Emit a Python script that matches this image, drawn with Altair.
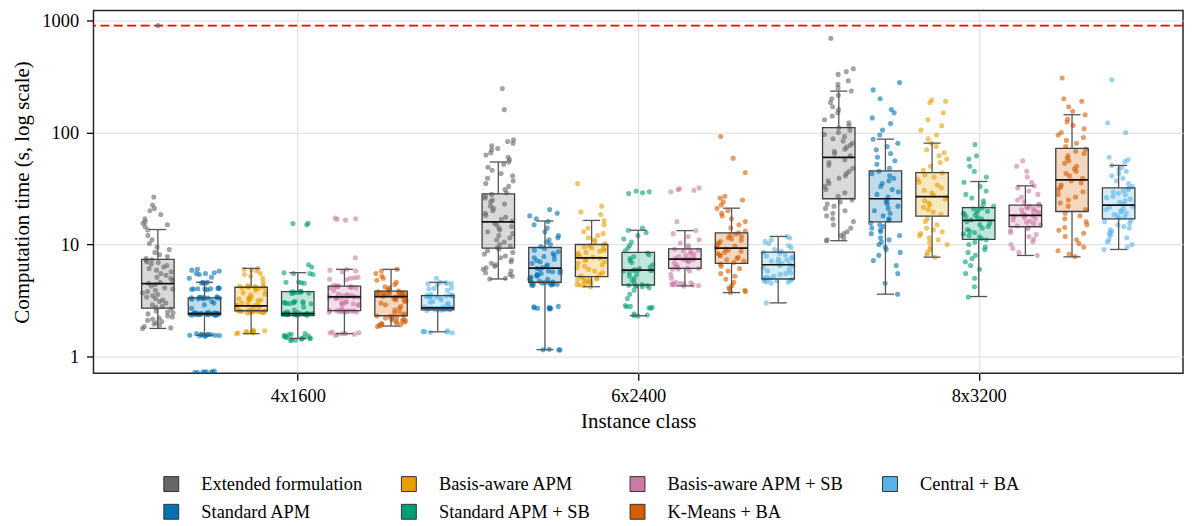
import altair as alt
import pandas as pd

CLASSES = ["4x1600", "6x2400", "8x3200"]
METHODS = ["Extended formulation", "Standard APM", "Basis-aware APM", "Standard APM + SB",
           "Basis-aware APM + SB", "K-Means + BA", "Central + BA"]
COLORS = ["#666666", "#0072B2", "#E69F00", "#009E73", "#CC79A7", "#D55E00", "#56B4E9"]
LEGEND_IDX = [0, 2, 4, 6, 1, 3, 5]
TIME_LIMIT = 900
Y_TICKS = [1, 10, 100, 1000]

# box statistics, class-major, methods in METHODS order
WHISK_LO = [1.78, 1.55, 1.60, 1.45, 1.60, 1.87, 1.66,
            4.92, 1.15, 4.20, 2.31, 4.27, 3.72, 3.01,
            10.8, 3.6, 7.71, 3.43, 7.98, 7.76, 9.03]
Q1 = [2.70, 2.36, 2.56, 2.32, 2.57, 2.31, 2.61,
      9.27, 4.60, 5.16, 4.35, 6.12, 6.78, 4.92,
      25.6, 15.9, 17.9, 11.1, 14.4, 19.7, 16.9]
MED = [4.47, 2.41, 2.83, 2.41, 3.41, 3.43, 2.72,
       15.9, 6.16, 7.60, 5.90, 7.40, 9.27, 6.59,
       59.9, 25.6, 26.8, 16.4, 18.2, 37.7, 22.5]
Q3 = [7.36, 3.34, 4.15, 3.80, 4.24, 3.83, 3.50,
      28.3, 9.40, 10.0, 8.50, 9.14, 12.7, 8.55,
      110.6, 45.4, 43.8, 21.3, 22.5, 72.0, 32.0]
WHISK_HI = [13.6, 4.60, 6.12, 5.60, 6.00, 6.00, 4.60,
            54.5, 16.2, 16.4, 13.4, 13.3, 21.1, 11.8,
            234, 87.2, 80.3, 36.5, 33.4, 144, 50.8]

# individual instance times
P4_EXT = [1.78, 1.8, 1.85, 1.9, 1.95, 2.0, 2.05, 2.1, 2.15, 2.2, 2.25, 2.3, 2.4, 2.45, 2.5, 2.55, 2.65,
          2.75, 2.8, 2.9, 3.0, 3.1, 3.2, 3.3, 3.4, 3.5, 3.6, 3.7, 3.8, 3.9, 4.0, 4.1, 4.25, 4.4,
          4.5, 4.6, 4.8, 5.0, 5.1, 5.3, 5.5, 5.7, 5.9, 6.1, 6.3, 6.5, 6.7, 6.9, 7.0, 7.2, 7.3,
          7.5, 7.8, 8.1, 8.5, 9.0, 9.5, 10.2, 11, 12, 13.5,
          14.5, 15, 15.5, 16, 17, 18.5, 20, 21, 22.5, 26.5, 900]
P4_STD = [0.72, 0.72, 0.73, 0.73, 0.72, 0.74, 0.73, 0.72,
          1.52, 1.54, 1.55, 1.56, 1.57, 1.58, 1.55, 1.53, 1.56, 1.6, 1.54, 1.57,
          2.33, 2.35, 2.36, 2.37, 2.38, 2.4, 2.41, 2.42, 2.43, 2.45, 2.36, 2.38, 2.4, 2.42, 2.44,
          2.35, 2.39, 2.41, 2.43, 2.37, 2.4, 2.46, 2.48,
          2.7, 2.9, 3.0, 3.1,
          3.25, 3.3, 3.32, 3.35, 3.38, 3.4, 3.3, 3.35, 3.42, 3.28, 3.36, 3.33,
          3.95, 4.0, 4.02, 4.05, 4.1, 4.0, 4.03, 3.98, 4.07,
          4.5, 4.55, 4.6, 4.52, 4.58,
          5.0, 5.1, 5.4, 5.5, 5.6, 5.8, 6.0, 5.9, 5.5]
P4_BA = [1.6, 1.62, 1.65, 1.67, 1.7, 1.63, 1.66, 1.68, 1.72, 1.64,
         2.45, 2.48, 2.5, 2.52, 2.54, 2.55, 2.56, 2.5, 2.53, 2.57, 2.49, 2.51, 2.55, 2.58, 2.6, 2.47, 2.52, 2.56,
         2.7, 2.78, 2.82, 2.85, 2.9, 2.95, 3.0, 2.88,
         3.15, 3.2, 3.25, 3.3, 3.35, 3.22, 3.28, 3.4,
         3.55, 3.6, 3.7, 3.8, 3.9,
         4.05, 4.1, 4.15, 4.2, 4.25, 4.3, 4.12, 4.18, 4.22, 4.08, 4.28,
         4.6, 5.0, 5.2, 5.4, 5.5,
         5.8, 5.9, 6.0, 6.1]
P4_STDSB = [1.38, 1.4, 1.42, 1.44, 1.45, 1.46, 1.48, 1.5, 1.52, 1.55, 1.58, 1.6, 1.43, 1.47, 1.51, 1.56,
            2.33, 2.35, 2.37, 2.38, 2.4, 2.41, 2.42, 2.44, 2.36, 2.39, 2.43, 2.45, 2.34, 2.4, 2.38, 2.42, 2.47, 2.5,
            2.6, 2.75,
            2.95, 2.98, 3.0, 3.02, 3.05, 3.08, 3.0, 3.03, 2.97, 3.1,
            3.65, 3.7, 3.75, 3.78, 3.8, 3.72, 3.76, 3.82, 3.68,
            4.5, 4.6, 4.55, 4.62,
            5.4, 5.5, 5.6, 5.5,
            6.3, 6.6,
            15.0, 15.4, 15.5]
P4_BASB = [1.55, 1.58, 1.6, 1.62, 1.65, 1.57, 1.63, 1.6,
           2.48, 2.5, 2.52, 2.54, 2.55, 2.57, 2.6, 2.51, 2.56, 2.53, 2.58, 2.49, 2.55, 2.62,
           2.85, 2.9, 2.95, 3.0, 2.92, 2.98, 3.05, 3.1,
           3.3, 3.35, 3.38, 3.4, 3.42, 3.45, 3.5, 3.36, 3.44, 3.32, 3.4, 3.48, 3.55, 3.6,
           3.9, 4.1, 4.15, 4.2, 4.22, 4.25, 4.3, 4.18, 4.12, 4.28, 4.24,
           4.85, 4.9, 5.0, 5.05, 5.1,
           5.7, 5.8, 5.9, 6.0,
           7.6, 16.5, 16.8, 17.0, 17.2]
P4_KM = [1.85, 1.88, 1.9, 1.92, 1.95, 1.97, 2.0, 2.02, 2.05, 2.08, 2.1, 2.12, 2.15, 2.18, 2.2, 2.22, 2.25, 2.28, 2.3,
         2.35, 2.4, 2.45, 2.5, 2.6, 2.7, 2.8, 2.9, 3.0, 3.1, 3.15, 3.2, 3.25, 3.3, 3.35, 3.4,
         3.45, 3.5, 3.52, 3.55, 3.58, 3.6, 3.62, 3.65, 3.68, 3.7, 3.72, 3.75, 3.78, 3.8, 3.45, 3.55, 3.65,
         3.85, 3.9, 4.0, 4.1, 4.2, 4.4, 4.6, 4.8, 5.0, 5.2, 5.5, 5.8, 6.0]
P4_CEN = [1.63, 1.65, 1.66, 1.68, 1.7, 1.67, 1.64,
          2.58, 2.6, 2.62, 2.64, 2.65, 2.66, 2.68, 2.7, 2.71, 2.72, 2.73, 2.74, 2.75, 2.6, 2.63, 2.67, 2.69, 2.72, 2.76, 2.62,
          2.9, 3.0, 3.05, 3.1, 3.2,
          3.35, 3.4, 3.42, 3.45, 3.48, 3.5, 3.52, 3.55, 3.6, 3.44, 3.47, 3.38, 3.5,
          3.9, 4.0, 4.05, 4.1,
          4.4, 4.45, 4.5, 4.55, 4.6, 4.48,
          5.0]

P6_EXT = [4.92, 5.0, 5.2, 5.4, 5.6, 5.8, 6.0, 6.2, 6.4, 6.6, 6.8, 7.0, 7.3, 7.6, 7.9, 8.2, 8.5, 8.8, 9.1,
          9.4, 9.7, 10.0, 10.5, 11, 11.5, 12, 12.5, 13, 13.5, 14, 14.5, 15, 15.5,
          16.2, 16.8, 17.5, 18.2, 19, 20, 21, 22, 23, 24, 25, 26, 27, 28,
          29, 31, 33, 35, 37, 39, 41, 43, 46, 49, 52, 54.5,
          57, 60, 63, 66, 70, 72, 76, 80, 83, 86, 160, 247]
P6_STD = [1.14, 1.15, 1.16, 1.15,
          2.65, 2.7, 2.72, 2.75, 2.68, 2.78, 2.8, 2.7,
          4.3, 4.4, 4.45, 4.5, 4.55, 4.6, 4.35, 4.42, 4.48, 4.52, 4.58, 4.62, 4.38,
          4.7, 4.8, 4.9, 5.0, 5.1, 5.2, 5.3, 5.4, 5.5, 5.6, 5.7, 5.8, 5.9, 6.0, 6.1,
          6.2, 6.4, 6.6, 6.8, 7.0, 7.2, 7.4, 7.6, 7.8, 8.0, 8.3, 8.6, 8.9, 9.2,
          9.6, 10, 10.5, 11, 11.5, 12, 13, 14, 15, 16,
          17, 18, 19, 20.5]
P6_BA = [4.2, 4.3, 4.4, 4.5, 4.6, 4.7, 4.8, 4.9, 5.0, 5.1, 4.35, 4.55, 4.75, 4.95, 5.05,
         5.2, 5.4, 5.6, 5.8, 6.0, 6.2, 6.4, 6.6, 6.8, 7.0, 7.2, 7.4, 7.5,
         7.7, 7.9, 8.1, 8.3, 8.5, 8.7, 8.9, 9.1, 9.3, 9.5, 9.7, 9.9,
         10.2, 10.6, 11, 11.5, 12, 12.5, 13, 14, 15, 16.4,
         18.5, 19.5, 22, 35]
P6_STDSB = [2.3, 2.32, 2.35, 2.4, 2.7, 2.75, 2.8, 2.85, 2.72, 2.78,
            3.3, 3.6, 3.9, 4.1, 4.2, 4.3, 4.25, 4.32, 4.28,
            4.4, 4.6, 4.8, 5.0, 5.2, 5.4, 5.6, 5.8, 5.85, 5.9, 5.88, 5.95, 5.92,
            6.1, 6.3, 6.6, 6.9, 7.2, 7.5, 7.8, 8.1, 8.4,
            8.8, 9.3, 9.8, 10.5, 11.2, 12, 12.8, 13.4,
            14, 28.5, 29, 29.5, 30]
P6_BASB = [4.25, 4.3, 4.35, 4.4, 4.45, 4.5, 4.6, 4.38, 4.48, 4.55,
           5.0, 5.4, 5.8, 6.0, 6.1, 6.15, 6.2, 6.05, 6.25,
           6.5, 6.8, 7.0, 7.2, 7.3, 7.35, 7.4, 7.45, 7.5, 7.3, 7.38,
           7.6, 7.8, 8.0, 8.3, 8.6, 8.9, 9.1, 8.2, 8.8,
           9.4, 9.8, 10.3, 11, 11.8, 12.5, 13.3,
           16, 29.5, 30.5, 31, 31.5, 32]
P6_KM = [3.72, 3.8, 3.9, 4.0, 4.1, 4.3, 4.6, 4.9, 5.2, 5.5, 5.8, 6.1, 6.4, 6.7,
         6.9, 7.1, 7.3, 7.5, 7.7, 7.9, 8.1, 8.3, 8.5, 8.7, 8.9, 9.1,
         9.4, 9.7, 10, 10.3, 10.6, 10.9, 11.2, 11.5, 11.8, 12.1, 12.4, 12.7,
         13.2, 14, 15, 16, 17, 18, 19, 20, 21,
         22.5, 24, 25, 26, 27, 44, 59, 92]
P6_CEN = [3.01, 4.5, 4.6, 4.7, 4.8, 4.9, 4.75, 4.85, 4.65, 4.95,
          5.0, 5.2, 5.4, 5.6, 5.8, 6.0, 6.2, 6.4, 6.5, 5.1, 5.5,
          6.7, 6.9, 7.1, 7.3, 7.5, 7.7, 7.9, 8.1, 8.3, 8.5, 6.8, 7.4,
          8.7, 9.0, 9.4, 9.8, 10.2, 10.6, 11.0, 11.4, 11.8]

P8_EXT = [10.8, 11, 11.5, 12, 12.5, 13, 14, 15, 16, 17, 18, 19, 20, 21, 22, 23, 24, 25,
          27, 29, 31, 33, 35, 37, 39, 41, 43, 45, 48, 51, 54, 57,
          62, 65, 68, 71, 74, 77, 80, 84, 88, 92, 96, 100, 105, 110,
          115, 122, 130, 140, 150, 160, 170, 185, 200, 215, 234,
          250, 270, 290, 330, 350, 370, 695]
P8_STD = [3.6, 4.5, 5.5, 6.5, 7.2, 8.0, 8.5, 9.0, 9.5, 10, 10.5, 11, 11.5, 12, 12.5, 13, 13.5, 14, 14.5, 15, 15.5,
          16.5, 17, 18, 19, 20, 21, 22, 23, 24, 25,
          26.5, 28, 29.5, 31, 33, 35, 37, 39, 41, 43, 45,
          48, 52, 56, 60, 65, 70, 75, 80, 87,
          95, 105, 120, 135, 150, 160, 200, 240, 279]
P8_BA = [7.7, 8.0, 8.5, 9.0, 9.5, 10, 10.5, 11, 11.5, 12, 12.5, 13, 13.5, 14, 15, 16, 17,
         18.5, 19.5, 20.5, 21.5, 22.5, 23.5, 24.5, 25.5, 26.5,
         27.5, 29, 30.5, 32, 34, 36, 38, 40, 42, 43.5,
         46, 50, 54, 58, 62, 66, 70, 75, 80,
         88, 95, 105, 115, 130, 150, 185, 190, 195]
P8_STDSB = [3.4, 4.2, 5.0, 5.5, 6.0, 6.5, 7.0, 7.5, 8.0, 8.5, 9.0, 9.5, 10, 10.5, 11,
            11.3, 11.7, 12, 12.4, 12.8, 13.2, 13.6, 14, 14.5, 15, 15.5, 16,
            16.6, 17, 17.4, 17.8, 18.2, 18.6, 19, 19.4, 19.8, 20.3, 20.8, 21.2,
            22, 23, 24.5, 26, 28, 30, 33, 36,
            40, 45, 50, 58, 62, 78]
P8_BASB = [8.0, 8.5, 9.2, 10, 10.6, 11.2, 11.8, 12.3, 12.8, 13.3, 13.8, 14.2,
           14.6, 15, 15.4, 15.8, 16.2, 16.6, 17, 17.4, 17.8, 18.1,
           18.4, 18.8, 19.2, 19.6, 20, 20.4, 20.8, 21.2, 21.6, 22, 22.4,
           23, 24, 25, 26.5, 28, 30, 32, 33.4,
           36, 40, 45, 50, 56]
P8_KM = [7.8, 8.2, 8.8, 9.5, 10.2, 11, 11.8, 12.6, 13.4, 14.2, 15, 16, 17, 18, 19,
         20.5, 22, 23.5, 25, 26.5, 28, 29.5, 31, 32.5, 34, 35.5, 37,
         39, 41, 43, 45, 47.5, 50, 53, 56, 59, 62, 65, 68, 71,
         75, 80, 85, 90, 95, 100, 108, 116, 124, 132, 144,
         155, 170, 190, 200, 307]
P8_CEN = [9.0, 9.5, 10, 10.5, 11, 11.5, 12, 12.5, 13, 13.5, 14, 14.5, 15, 15.5, 16, 16.5,
          17.2, 17.6, 18, 18.5, 19, 19.5, 20, 20.5, 21, 21.5, 22,
          23, 23.8, 24.6, 25.4, 26.2, 27, 27.8, 28.6, 29.4, 30.2, 31, 31.8,
          33, 35, 37, 39, 41, 43, 45, 47, 49, 50.8,
          55, 57, 60, 100, 122, 295]

POINTS = [
    [P4_EXT, P4_STD, P4_BA, P4_STDSB, P4_BASB, P4_KM, P4_CEN],
    [P6_EXT, P6_STD, P6_BA, P6_STDSB, P6_BASB, P6_KM, P6_CEN],
    [P8_EXT, P8_STD, P8_BA, P8_STDSB, P8_BASB, P8_KM, P8_CEN],
]

stat_rows, pt_rows = [], []
for ci, cls in enumerate(CLASSES):
    for mi, m in enumerate(METHODS):
        i = ci * len(METHODS) + mi
        stat_rows.append(dict(cls=cls, ci=ci, method=m, mi=mi, lo=WHISK_LO[i], q1=Q1[i],
                              med=MED[i], q3=Q3[i], hi=WHISK_HI[i]))
        for k, v in enumerate(POINTS[ci][mi]):
            pt_rows.append(dict(cls=cls, ci=ci, method=m, mi=mi, k=k, v=v))
stats = pd.DataFrame(stat_rows)
pts = pd.DataFrame(pt_rows)
limit_df = pd.DataFrame({"t": [TIME_LIMIT]})

FONT = "Liberation Serif"
POS = "(datum.ci + (datum.mi - 3) * 0.137)"
# deterministic hash-based jitter (position only)
JIT = "((((sin(datum.k * 12.9898 + datum.mi * 78.233 + datum.ci * 37.719) * 43758.5453) % 1 + 1) % 1) - 0.5)"
xscale = alt.Scale(domain=[-0.6, 2.6], nice=False, zero=False)
yscale = alt.Scale(type="log", domain=[0.707, 1227], nice=False)
label_expr = "[" + ",".join("'%s'" % c for c in CLASSES) + "][datum.value]"
xaxis = alt.Axis(values=[0, 1, 2], labelExpr=label_expr, title="Instance class",
                 grid=True, titlePadding=6, labelPadding=6)
yaxis = alt.Axis(values=Y_TICKS, format="d", title="Computation time (s, log scale)",
                 grid=True, titlePadding=9, labelPadding=8)


def X(field):
    return alt.X(field, scale=xscale, axis=xaxis)


def Y(field):
    return alt.Y(field, scale=yscale, axis=yaxis)


fill_scale = alt.Scale(domain=METHODS, range=COLORS)
color_scale = alt.Scale(domain=[METHODS[i] for i in LEGEND_IDX],
                        range=[COLORS[i] for i in LEGEND_IDX])

sb = alt.Chart(stats).transform_calculate(pos=POS).transform_calculate(
    b0="datum.pos - 0.0477", b1="datum.pos + 0.0477",
    c0="datum.pos - 0.025", c1="datum.pos + 0.025")

box_fill = sb.mark_rect(opacity=0.25).encode(
    x=X("b0:Q"), x2="b1:Q", y=Y("q1:Q"), y2="q3:Q",
    fill=alt.Fill("method:N", scale=fill_scale, legend=None))

limit = alt.Chart(limit_df).mark_rule(color="#ff0000", strokeDash=[9, 4.5], strokeWidth=1.6).encode(
    y=Y("t:Q"))

points = alt.Chart(pts).transform_calculate(
    px=POS + " + " + JIT + " * 0.09"
).mark_circle(size=26, opacity=0.6, clip=True).encode(
    x=X("px:Q"), y=Y("v:Q"),
    color=alt.Color("method:N", scale=color_scale, legend=alt.Legend(
        title=None, orient="none", legendX=69, legendY=467, columns=4, direction="horizontal",
        symbolType="square", symbolSize=225, symbolOpacity=1, symbolStrokeColor="#333333",
        symbolStrokeWidth=1, labelFont=FONT, labelFontSize=18.5, labelColor="#000000",
        labelOffset=21, columnPadding=36, rowPadding=8, padding=0, labelLimit=400)))

box_line = sb.mark_rect(fillOpacity=0, stroke="#404040", strokeWidth=1.3).encode(
    x=X("b0:Q"), x2="b1:Q", y=Y("q1:Q"), y2="q3:Q")

wl = sb.mark_rule(color="#555555", strokeWidth=1.3).encode(x=X("pos:Q"), y=Y("lo:Q"), y2="q1:Q")
wh = sb.mark_rule(color="#555555", strokeWidth=1.3).encode(x=X("pos:Q"), y=Y("q3:Q"), y2="hi:Q")
cap_lo = sb.mark_rule(color="#555555", strokeWidth=1.3).encode(x=X("c0:Q"), x2="c1:Q", y=Y("lo:Q"))
cap_hi = sb.mark_rule(color="#555555", strokeWidth=1.3).encode(x=X("c0:Q"), x2="c1:Q", y=Y("hi:Q"))
median = sb.mark_rule(color="#111111", strokeWidth=1.7).encode(x=X("b0:Q"), x2="b1:Q", y=Y("med:Q"))

chart = alt.layer(box_fill, limit, points, box_line, wl, wh, cap_lo, cap_hi, median).properties(
    width=1096, height=365,
    autosize=alt.AutoSizeParams(type="none"),
    padding={"left": 86, "top": 1, "right": 1, "bottom": 150},
).configure_axis(
    labelFont=FONT, titleFont=FONT, labelFontSize=18.5, titleFontSize=21,
    titleFontWeight="normal", labelColor="#000000", titleColor="#000000",
    tickColor="#000000", tickWidth=1.3, tickSize=7, gridColor="#dcdcdc", gridWidth=1,
    domain=False,
).configure_view(stroke="#262626", strokeWidth=1.5)

chart.save("out.html", embed_options={"renderer": "svg", "actions": False})
